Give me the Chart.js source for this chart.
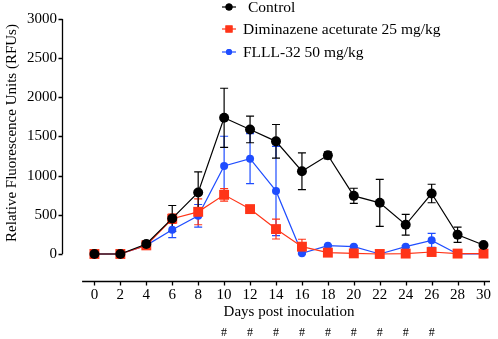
<!DOCTYPE html>
<html>
<head>
<meta charset="utf-8">
<script src="https://cdn.jsdelivr.net/npm/chart.js@4/dist/chart.umd.min.js"></script>
<style>
  html, body { margin: 0; padding: 0; background: #fff; }
  #wrap { width: 498px; height: 339px; }
</style>
</head>
<body>
<div id="wrap"><canvas id="grafica"></canvas></div>
<script>
// --- Datos ---
const days = [0, 2, 4, 6, 8, 10, 12, 14, 16, 18, 20, 22, 24, 26, 28, 30];
const control = [0, 0, 127, 454, 785, 1739, 1590, 1438, 1056, 1260, 742, 653, 373, 772, 246, 114];
const controlErr = [10, 10, 40, 165, 262, 377, 170, 215, 235, 45, 97, 300, 133, 118, 98, 15];
const diminazene = [0, 0, 110, 450, 538, 755, 573, 318, 93, 17, 8, 0, 5, 25, 5, 5];
const diminazeneErr = [10, 10, 50, 60, 165, 80, 20, 127, 95, 10, 10, 5, 10, 10, 5, 5];
const flll = [0, 0, 110, 309, 487, 1123, 1217, 805, 9, 106, 93, 0, 93, 174, 0, 0];
const flllErr = [5, 5, 40, 100, 145, 380, 320, 570, 10, 10, 10, 5, 10, 90, 5, 5];
const yTicks = [0, 500, 1000, 1500, 2000, 2500, 3000];
const hashDays = [10, 12, 14, 16, 18, 20, 22, 24, 26];

const FONT = '"Liberation Serif", "Times New Roman", serif';
const BLACK = '#000000';
const RED = '#ff3418';
const BLUE = '#1f4dff';

const toPts = (vals) => days.map((d, i) => ({ x: d, y: vals[i] }));

const series = [
  { label: 'Control', data: control, err: controlErr, color: BLACK, style: 'circle', radius: 5, legR: 3.5 },
  { label: 'Diminazene aceturate 25 mg/kg', data: diminazene, err: diminazeneErr, color: RED, style: 'rect', radius: 7, legR: 5 },
  { label: 'FLLL-32 50 mg/kg', data: flll, err: flllErr, color: BLUE, style: 'circle', radius: 4, legR: 3 }
];

// --- Plugin: ejes, barras de error, leyenda y textos ---
const extras = {
  id: 'extras',
  beforeDatasetsDraw(chart) {
    const { ctx, scales: { x, y } } = chart;
    ctx.save();
    ctx.lineWidth = 1.2;
    // barras de error
    series.slice().reverse().forEach(s => {
      ctx.strokeStyle = s.color;
      days.forEach((d, i) => {
        const px = x.getPixelForValue(d);
        const top = y.getPixelForValue(s.data[i] + s.err[i]);
        const bot = y.getPixelForValue(Math.max(s.data[i] - s.err[i], 0));
        ctx.beginPath();
        ctx.moveTo(px, top); ctx.lineTo(px, bot);
        ctx.moveTo(px - 4, top); ctx.lineTo(px + 4, top);
        ctx.moveTo(px - 4, bot); ctx.lineTo(px + 4, bot);
        ctx.stroke();
      });
    });
    ctx.restore();
  },
  afterDraw(chart) {
    const { ctx, chartArea, scales: { x, y } } = chart;
    ctx.save();
    ctx.strokeStyle = '#000';
    ctx.lineWidth = 1.3;
    // eje y con marcas
    const ax = Math.round(chartArea.left) + 0.5;
    ctx.beginPath();
    ctx.moveTo(ax, y.getPixelForValue(0));
    ctx.lineTo(ax, y.getPixelForValue(3000));
    yTicks.forEach(v => {
      const py = Math.round(y.getPixelForValue(v)) + 0.5;
      ctx.moveTo(ax, py); ctx.lineTo(ax - 4, py);
    });
    ctx.stroke();
    // eje x (separado)
    const ay = Math.round(chartArea.bottom) + 0.5;
    ctx.beginPath();
    ctx.moveTo(x.getPixelForValue(-0.95), ay);
    ctx.lineTo(chartArea.right, ay);
    days.forEach(d => {
      const px = Math.round(x.getPixelForValue(d)) + 0.5;
      ctx.moveTo(px, ay); ctx.lineTo(px, ay + 4);
    });
    ctx.stroke();

    ctx.fillStyle = '#000';
    ctx.font = '15px ' + FONT;
    ctx.textAlign = 'center';
    ctx.textBaseline = 'middle';
    ctx.fillText('Days post inoculation', x.getPixelForValue(15), 312);
    ctx.font = '12px ' + FONT;
    hashDays.forEach(d => ctx.fillText('#', x.getPixelForValue(d), 333));

    // titulo eje y
    ctx.font = '15px ' + FONT;
    ctx.translate(12, 133);
    ctx.rotate(-Math.PI / 2);
    ctx.fillText('Relative Fluorescence Units (RFUs)', 0, 0);
    ctx.restore();

    // leyenda
    ctx.save();
    ctx.font = '15.5px ' + FONT;
    ctx.textBaseline = 'middle';
    ctx.textAlign = 'left';
    const rowsY = [7, 29, 52];
    const textX = [248, 243, 243];
    series.forEach((s, i) => {
      const ly = rowsY[i];
      ctx.strokeStyle = s.color;
      ctx.fillStyle = s.color;
      ctx.lineWidth = 1.2;
      ctx.beginPath();
      ctx.moveTo(222, ly); ctx.lineTo(236, ly);
      ctx.stroke();
      Chart.helpers.drawPoint(ctx, { pointStyle: s.style, radius: s.legR, borderWidth: 0 }, 229, ly);
      ctx.fill();
      ctx.fillStyle = '#000';
      ctx.fillText(s.label, textX[i], ly + 1);
    });
    ctx.restore();
  }
};

const datasets = series.map(s => ({
  label: s.label,
  data: toPts(s.data),
  borderColor: s.color,
  backgroundColor: s.color,
  borderWidth: 1.2,
  pointStyle: s.style,
  pointRadius: s.radius,
  pointBorderWidth: 0,
  pointBackgroundColor: s.color,
  tension: 0
}));

new Chart(document.getElementById('grafica'), {
  type: 'line',
  data: { datasets },
  options: {
    responsive: true,
    maintainAspectRatio: false,
    animation: false,
    layout: { padding: { top: 19, right: 8, left: 0, bottom: 0 } },
    plugins: { legend: { display: false }, tooltip: { enabled: false } },
    scales: {
      x: {
        type: 'linear',
        min: -2.5,
        max: 30.5,
        afterBuildTicks: (scale) => { scale.ticks = days.map(v => ({ value: v })); },
        afterFit: (scale) => { scale.height = 58; },
        border: { display: false },
        grid: { display: false, drawTicks: false },
        ticks: { color: '#000', font: { family: FONT, size: 15 }, padding: 5, maxRotation: 0, autoSkip: false, callback: (v) => String(v) }
      },
      y: {
        min: -345,
        max: 3000,
        afterBuildTicks: (scale) => { scale.ticks = yTicks.map(v => ({ value: v })); },
        afterFit: (scale) => { scale.width = 62; },
        border: { display: false },
        grid: { display: false, drawTicks: false },
        ticks: { color: '#000', font: { family: FONT, size: 15 }, padding: 5, callback: (v) => String(v) }
      }
    }
  },
  plugins: [extras]
});
</script>
</body>
</html>
